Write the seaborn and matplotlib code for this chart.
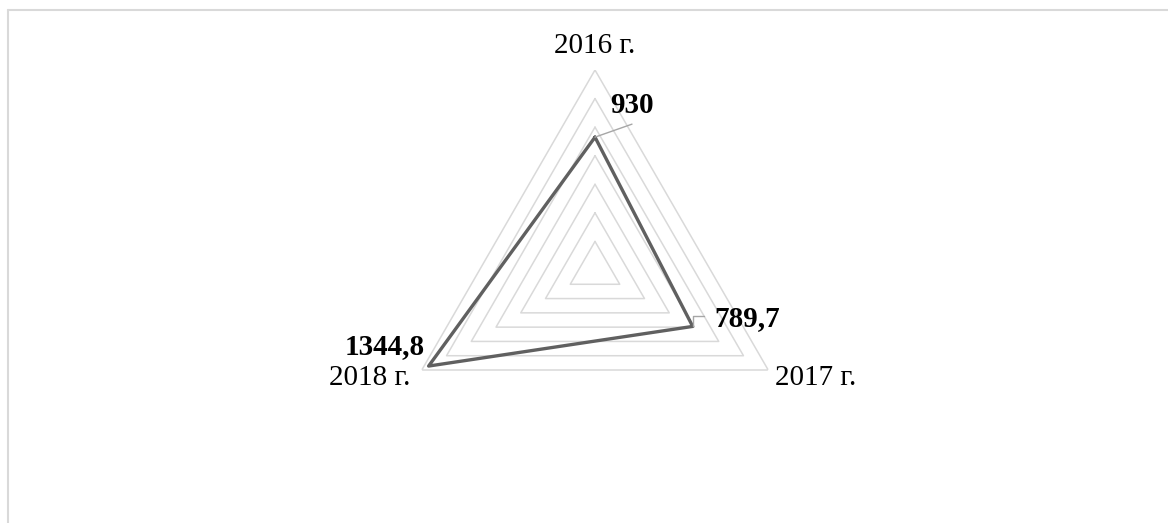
import numpy as np
import pandas as pd
import matplotlib.pyplot as plt
from matplotlib.lines import Line2D
import seaborn as sns

# data
years = ["2016 г.", "2017 г.", "2018 г."]
values = [930, 789.7, 1344.8]
value_labels = ["930", "789,7", "1344,8"]
ring_levels = [200, 400, 600, 800, 1000, 1200, 1400]

sns.set_theme(style="white")
plt.rcParams['font.family'] = ['Liberation Serif', 'DejaVu Serif']
plt.rcParams['text.color'] = 'black'

W, H = 1168, 523
fig = plt.figure(figsize=(W / 100, H / 100), dpi=100)

# polar axes: centre (595, 270) px, radius 200 px
cx, cy, R = 595, 270, 200
ax = fig.add_axes([(cx - R) / W, (H - cy - R) / H, 2 * R / W, 2 * R / H], projection='polar')
ax.set_theta_offset(np.pi / 2)
ax.set_theta_direction(-1)
ax.set_ylim(0, ring_levels[-1])
ax.grid(False)
ax.spines['polar'].set_visible(False)
ax.set_xticks([])
ax.set_yticks([])
ax.set_facecolor('none')

angles = np.linspace(0, 2 * np.pi, len(years), endpoint=False)
closed_angles = np.append(angles, angles[0])

# triangular grid rings
for lvl in ring_levels:
    ax.plot(closed_angles, [lvl] * len(closed_angles), color='#d9d9d9', lw=1.1, zorder=1)

# data series (closed loop, no aggregation)
df = pd.DataFrame({'theta': closed_angles, 'r': values + [values[0]]})
sns.lineplot(data=df, x='theta', y='r', sort=False, estimator=None, ax=ax,
             color='#606060', lw=2.4, zorder=3)
ax.set_xlabel('')
ax.set_ylabel('')

fs = 21
# category labels (offsets in pixels from outer vertex)
cat_offsets = [(0, 17, 'center'), (7, -15, 'left'), (-11, -15, 'right')]
for ang, name, (dx, dy, ha) in zip(angles, years, cat_offsets):
    ax.annotate(name, xy=(ang, ring_levels[-1]), xytext=(dx, dy), textcoords='offset pixels',
                ha=ha, va='baseline', fontsize=fs, color='black')

# value labels with leader lines
lead = '#a6a6a6'
ax.annotate(value_labels[0], xy=(angles[0], values[0]), xytext=(37, 24), textcoords='offset pixels',
            ha='center', va='baseline', fontsize=fs, fontweight='bold', color='black')
ax.annotate('', xy=(angles[0], values[0]), xytext=(37, 13), textcoords='offset pixels',
            arrowprops=dict(arrowstyle='-', color=lead, lw=1, shrinkA=0, shrinkB=0))
ax.annotate(value_labels[1], xy=(angles[1], values[1]), xytext=(22, 0), textcoords='offset pixels',
            ha='left', va='baseline', fontsize=fs, fontweight='bold', color='black')
ax.annotate('', xy=(angles[1], values[1]), xytext=(11, 10), textcoords='offset pixels',
            arrowprops=dict(arrowstyle='-', color=lead, lw=1, shrinkA=0, shrinkB=0,
                            connectionstyle='angle,angleA=0,angleB=90,rad=0'))
ax.annotate(value_labels[2], xy=(angles[2], values[2]), xytext=(-4, 12), textcoords='offset pixels',
            ha='right', va='baseline', fontsize=fs, fontweight='bold', color='black')

# outer chart frame (cut off at right and bottom)
fig.add_artist(Line2D([8 / W, 8 / W], [0, 1 - 10 / H], color='#d9d9d9', lw=1.5))
fig.add_artist(Line2D([8 / W, 1], [1 - 10 / H, 1 - 10 / H], color='#d9d9d9', lw=1.5))

fig.savefig('out.png', dpi=100, facecolor='white')
